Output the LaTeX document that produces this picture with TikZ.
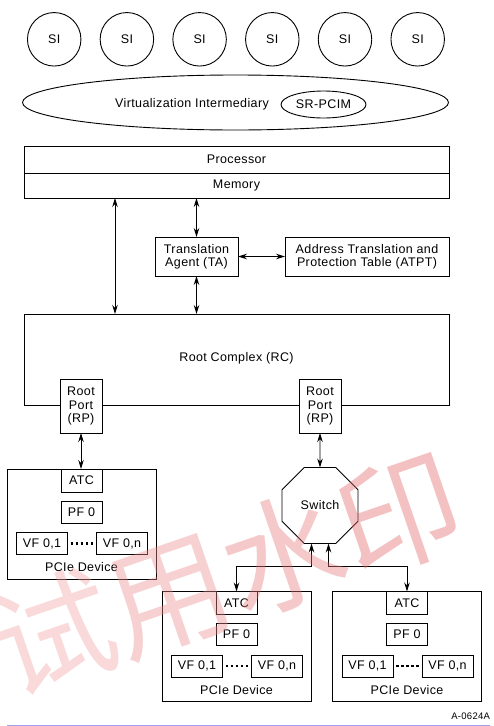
\documentclass[tikz,border=0pt]{standalone}
\usepackage{fontspec}
\setmainfont[LetterSpace=3]{Liberation Sans}
\newfontfamily\cjk{Noto Sans CJK SC}
\usetikzlibrary{shapes.geometric,arrows.meta,calc}
\definecolor{wmA}{RGB}{240,160,160}
\definecolor{wmB}{RGB}{235,140,140}
\definecolor{wmC}{RGB}{230,120,120}
\definecolor{wmD}{RGB}{225,100,100}
\definecolor{rulecol}{RGB}{160,160,235}
\tikzset{
  every node/.style={font=\fontsize{12.5}{13.3}\selectfont, inner sep=0pt, outer sep=0pt},
  sinode/.style={circle, draw, line width=0.9pt, minimum size=53.5pt},
  box/.style={draw, line width=0.9pt, fill=white, align=center},
  biarrow/.style={line width=0.9pt, {Stealth[length=9pt,width=5.5pt]}-{Stealth[length=9pt,width=5.5pt]}},
  dotline/.style={line width=2.5pt, dash pattern=on 2.5pt off 2.6pt},
}
\newcommand{\pcieDev}[3]{%
  \node[box, anchor=north west, minimum width=149pt, minimum height=110pt] (#1) at (#2,#3) {};
  \node[box, anchor=north, minimum width=41pt, minimum height=23pt] (#1atc) at ([xshift=74.5pt]#1.north west) {ATC};
  \node[box, anchor=north, minimum width=41pt, minimum height=22pt] (#1pf) at ([xshift=74.5pt,yshift=-32pt]#1.north west) {PF 0};
  \node[box, anchor=north, minimum width=51pt, minimum height=22pt] (#1vfa) at ([xshift=35pt,yshift=-63.5pt]#1.north west) {VF 0,1};
  \node[box, anchor=north, minimum width=51pt, minimum height=22pt] (#1vfn) at ([xshift=115pt,yshift=-63.5pt]#1.north west) {VF 0,n};
  \draw[dotline] ([xshift=3pt]#1vfa.east) -- ([xshift=-3pt]#1vfn.west);
  \node (#1lbl) at ([xshift=74.5pt,yshift=-98.5pt]#1.north west) {PCIe Device};
}
\begin{document}
\begin{tikzpicture}[x=1pt,y=-1pt]
\useasboundingbox (0,0) rectangle (493,726);
% SI circles
\foreach \i/\x in {1/54.2,2/126.9,3/199.6,4/272.3,5/345,6/417.7}{
  \node[sinode] (si\i) at (\x,39.3) {SI};
}
% Virtualization Intermediary
\node[ellipse, draw, line width=0.9pt, minimum width=426pt, minimum height=55pt] (vi) at (235.5,102.5) {};
\node (vitext) at (192,104) {Virtualization Intermediary};
\node[ellipse, draw, line width=0.9pt, minimum width=85pt, minimum height=27pt] (pcim) at (323.5,104.5) {SR-PCIM};
% Processor / Memory
\node[box, anchor=north west, minimum width=425pt, minimum height=27pt] (proc) at (24,146) {Processor};
\node[box, anchor=north west, minimum width=425pt, minimum height=25pt] (mem) at (24,173) {Memory};
% TA and ATPT
\node[box, minimum width=83pt, minimum height=39pt] (ta) at (196.5,256.5) {Translation\\Agent (TA)};
\node[box, minimum width=164pt, minimum height=39pt] (atpt) at (367,256.5) {Address Translation and\\Protection Table (ATPT)};
% Root complex
\node[box, anchor=north west, minimum width=425pt, minimum height=91pt] (rc) at (24,314) {};
\node (rctext) at (236.5,358) {Root Complex (RC)};
\node[box, minimum width=42pt, minimum height=54pt] (rp1) at (81,406) {Root\\Port\\(RP)};
\node[box, minimum width=42pt, minimum height=54pt] (rp2) at (320,406) {Root\\Port\\(RP)};
% Switch
\node[regular polygon, regular polygon sides=8, draw, line width=0.9pt, minimum size=82.2pt] (sw) at (320,505.5) {Switch};
% Devices
\pcieDev{da}{7}{469}
\pcieDev{db}{162}{591.5}
\pcieDev{dc}{332.5}{591.5}
% connectors
\coordinate (lx) at (115,0);
\draw[biarrow] (mem.south -| lx) -- (rc.north -| lx);
\draw[biarrow] (mem.south -| ta.north) -- (ta.north);
\draw[biarrow] (ta.east) -- (atpt.west);
\draw[biarrow] (ta.south) -- (rc.north -| ta.south);
\draw[biarrow] (rp1.south) -- (rp1.south |- da.north);
\draw[biarrow] (rp2.south) -- (sw.north);
\draw[biarrow] ([xshift=-8.5pt]sw.south) -- ++(0,22.5) -| (dbatc.north);
\draw[biarrow] ([xshift=8.5pt]sw.south) -- ++(0,22.5) -| (dcatc.north);
% figure id and rule
\node[anchor=east, font=\fontsize{9.5}{10}\selectfont] (fid) at (490,716.5) {A-0624A};
\coordinate (rl) at (7,725.5);
\coordinate (rr) at (490,725.5);
\draw[rulecol, line width=1pt] (rl) -- (rr);
% watermark
\node[rotate=19, font=\fontsize{122}{122}\cjk, text opacity=0.4] (wm) at (226,574) {{\color{wmA}试}{\color{wmB}用}{\color{wmC}水}{\color{wmD}印}};
\end{tikzpicture}
\end{document}
